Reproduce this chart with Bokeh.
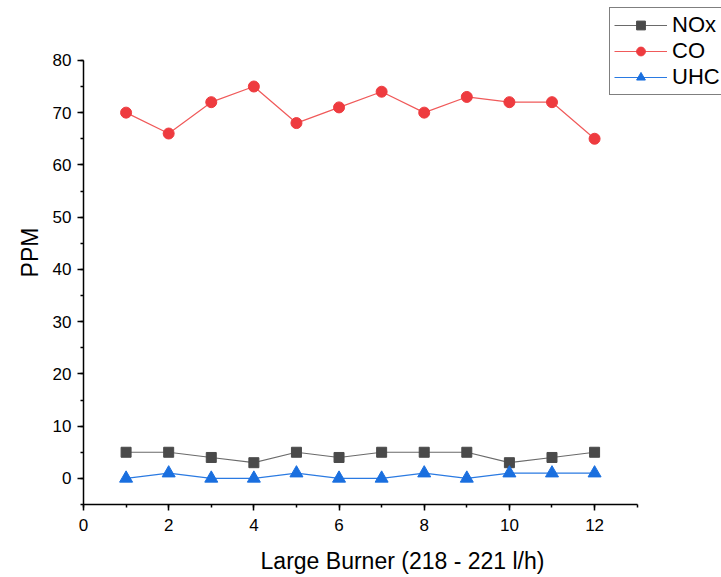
from bokeh.plotting import figure
from bokeh.models import Range1d, Legend, LegendItem, FixedTicker
from bokeh.embed import file_html
from bokeh.resources import INLINE

x = [1, 2, 3, 4, 5, 6, 7, 8, 9, 10, 11, 12]
nox = [5, 5, 4, 3, 5, 4, 5, 5, 5, 3, 4, 5]
co = [70, 66, 72, 75, 68, 71, 74, 70, 73, 72, 72, 65]
uhc = [0, 1, 0, 0, 1, 0, 0, 1, 0, 1, 1, 1]

x_ticks = [0, 2, 4, 6, 8, 10, 12]
y_ticks = [0, 10, 20, 30, 40, 50, 60, 70, 80]

FONT = "Liberation Sans"

p = figure(width=721, height=577, output_backend="svg", toolbar_location=None,
           x_range=Range1d(0, 14.98), y_range=Range1d(-5, 91.46),
           min_border_left=83, min_border_right=0, min_border_top=0, min_border_bottom=73)
p.outline_line_color = None
p.grid.visible = False
p.background_fill_color = "white"

for ax in (p.xaxis[0], p.yaxis[0]):
    ax.axis_line_color = "black"
    ax.axis_line_width = 1.5
    ax.major_tick_line_color = "black"
    ax.minor_tick_line_color = "black"
    ax.major_tick_line_width = 1.5
    ax.minor_tick_line_width = 1.5
    ax.major_tick_in = 0
    ax.major_tick_out = 6
    ax.minor_tick_in = 0
    ax.minor_tick_out = 3
    ax.major_label_text_font = FONT
    ax.major_label_text_font_size = "17px"
    ax.major_label_text_color = "black"
    ax.axis_label_text_font = FONT
    ax.axis_label_text_font_size = "23px"
    ax.axis_label_text_font_style = "normal"
    ax.axis_label_text_color = "black"

p.xaxis[0].bounds = (0, 13)
p.yaxis[0].bounds = (-5, 80)
p.xaxis[0].ticker = FixedTicker(ticks=x_ticks, minor_ticks=list(range(0, 14)))
p.yaxis[0].ticker = FixedTicker(ticks=y_ticks, minor_ticks=list(range(-5, 81, 5)))
p.xaxis[0].axis_label = "Large Burner (218 - 221 l/h)"
p.yaxis[0].axis_label = "PPM"
p.xaxis[0].major_label_standoff = 8
p.yaxis[0].major_label_standoff = 6
p.xaxis[0].axis_label_standoff = 14
p.yaxis[0].axis_label_standoff = 7

l1 = p.line(x, nox, line_color="#6a6a6a", line_width=1.2)
m1 = p.scatter(x, nox, marker="square", size=10, fill_color="#4a4a4a", line_color="#4a4a4a")
l2 = p.line(x, co, line_color="#f05a5a", line_width=1.2)
m2 = p.scatter(x, co, marker="circle", size=11, fill_color="#ee3b3f", line_color="#ee3b3f")
l3 = p.line(x, uhc, line_color="#2a7ae2", line_width=1.2)
m3 = p.scatter(x, uhc, marker="triangle", size=13, fill_color="#1a6fdf", line_color="#1a6fdf")

legend = Legend(items=[
    LegendItem(label="NOx", renderers=[l1, m1]),
    LegendItem(label="CO", renderers=[l2, m2]),
    LegendItem(label="UHC", renderers=[l3, m3]),
], location=(526, 409))
legend.label_text_font = FONT
legend.label_text_font_size = "22px"
legend.label_text_color = "black"
legend.glyph_width = 53
legend.glyph_height = 22
legend.label_height = 22
legend.spacing = 0
legend.padding = 4
legend.margin = 0
legend.label_standoff = 5
legend.border_line_color = "black"
legend.border_line_width = 1.5
legend.background_fill_alpha = 1
p.add_layout(legend, "center")

open("out.html", "w").write(file_html(p, INLINE))
